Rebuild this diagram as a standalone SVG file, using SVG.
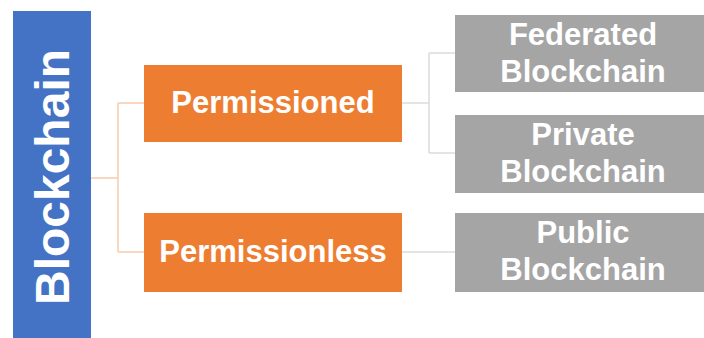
<svg xmlns="http://www.w3.org/2000/svg" width="704" height="338" viewBox="0 0 704 338">
<style>
.t{font-family:"Liberation Sans",Arial,sans-serif;font-weight:bold;fill:#ffffff;text-anchor:middle}
.oc{fill:none;stroke:#f8cbad;stroke-width:1.5}
.gc{fill:none;stroke:#dcdcdc;stroke-width:1.5}
.org{fill:#ed7d31}
.gry{fill:#a5a5a5}
</style>
<rect width="704" height="338" fill="#ffffff"/>
<g id="connectors">
<path class="oc" d="M91,178 H118 M118,103 V252 M118,103 H144 M118,252 H144"/>
<path class="gc" d="M402,103 H429 M429,53 V153 M429,53 H455 M429,153 H455 M402,252 H455"/>
</g>
<g id="blockchain">
<rect x="13" y="11" width="78" height="327" fill="#4472c4"/>
<text class="t" font-size="48" transform="translate(69,177) rotate(-90)">Blockchain</text>
</g>
<g id="permissioned">
<rect class="org" x="144" y="65" width="258" height="77"/>
<text class="t" font-size="31" x="273" y="113">Permissioned</text>
</g>
<g id="permissionless">
<rect class="org" x="144" y="213" width="258" height="79"/>
<text class="t" font-size="31" x="273" y="262">Permissionless</text>
</g>
<g id="federated">
<rect class="gry" x="455" y="15" width="249" height="77"/>
<text class="t" font-size="31" x="583" y="45">Federated</text>
<text class="t" font-size="31" x="583" y="82">Blockchain</text>
</g>
<g id="private">
<rect class="gry" x="455" y="115" width="249" height="78"/>
<text class="t" font-size="31" x="583" y="145">Private</text>
<text class="t" font-size="31" x="583" y="182">Blockchain</text>
</g>
<g id="public">
<rect class="gry" x="455" y="213" width="249" height="79"/>
<text class="t" font-size="31" x="583" y="243">Public</text>
<text class="t" font-size="31" x="583" y="280">Blockchain</text>
</g>
</svg>
